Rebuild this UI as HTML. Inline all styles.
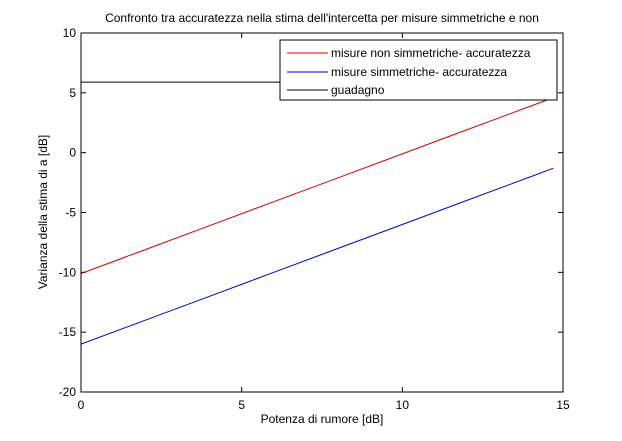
<!DOCTYPE html>
<html><head><meta charset="utf-8"><style>
html,body{margin:0;padding:0;background:#fff;}
svg{display:block;font-family:"Liberation Sans",Arial,sans-serif;}
</style></head><body>
<svg id="chart" width="622" height="441" viewBox="0 0 622 441" xmlns="http://www.w3.org/2000/svg">
<rect x="0" y="0" width="622" height="441" fill="#fff"/>
<text x="322" y="22" font-size="12" text-anchor="middle">Confronto tra accuratezza nella stima dell'intercetta per misure simmetriche e non</text>
<g id="ticks"></g>
<g id="series"></g>
<rect x="81" y="33" width="482" height="359" fill="none" stroke="#000" stroke-width="1"/>
<text x="322" y="423" font-size="12" text-anchor="middle">Potenza di rumore [dB]</text>
<text transform="translate(47,212) rotate(-90)" font-size="12" text-anchor="middle">Varianza della stima di a [dB]</text>
<g>
<rect x="280" y="40" width="277" height="60" fill="#fff" stroke="#000" stroke-width="1"/>
<line x1="287" y1="53" x2="328" y2="53" stroke="#d00000"/>
<text x="331" y="57" font-size="12">misure non simmetriche- accuratezza</text>
<line x1="287" y1="72" x2="328" y2="72" stroke="#0000d0"/>
<text x="331" y="76" font-size="12">misure simmetriche- accuratezza</text>
<line x1="287" y1="90" x2="328" y2="90" stroke="#000"/>
<text x="331" y="94" font-size="12">guadagno</text>
</g>
</svg>
<script>
const xValues = [0, 2, 4, 6, 8, 10, 12, 14, 14.7];
const redValues = [-10.1, -8.1, -6.1, -4.1, -2.1, -0.1, 1.9, 3.9, 4.6];
const blueValues = [-16, -14, -12, -10, -8, -6, -4, -2, -1.3];
const gainValues = [5.9, 5.9, 5.9, 5.9, 5.9, 5.9, 5.9, 5.9, 5.9];
const xTicks = [0, 5, 10, 15];
const yTicks = [-20, -15, -10, -5, 0, 5, 10];

const L=81,R=563,T=33,B=392;
const xs=v=>L+(v-0)/(15-0)*(R-L);
const ys=v=>B-(v+20)/30*(B-T);
const NS="http://www.w3.org/2000/svg";
const tg=document.getElementById('ticks');
function mk(tag,attrs,parent){const e=document.createElementNS(NS,tag);for(const k in attrs)e.setAttribute(k,attrs[k]);parent.appendChild(e);return e;}
xTicks.forEach(t=>{
  const x=xs(t);
  const a=mk('line',{x1:x,y1:B,x2:x,y2:B-5,stroke:'#000'},tg);
  
  
  mk('line',{x1:x,y1:T,x2:x,y2:T+5,stroke:'#000'},tg);
  const tx=mk('text',{x:x,y:B+17,'font-size':12,'text-anchor':'middle'},tg);
  tx.textContent=t;
  
  
});
yTicks.forEach(t=>{
  const y=ys(t);
  const a=mk('line',{x1:L,y1:y,x2:L+5,y2:y,stroke:'#000'},tg);
  
  
  mk('line',{x1:R,y1:y,x2:R-5,y2:y,stroke:'#000'},tg);
  const tx=mk('text',{x:L-5,y:y+4,'font-size':12,'text-anchor':'end'},tg);
  tx.textContent=t;
  
  
});
const sg=document.getElementById('series');
function line(vals,color,name){
  const pts=xValues.map((x,i)=>xs(x).toFixed(1)+','+ys(vals[i]).toFixed(1)).join(' ');
  const p=mk('polyline',{points:pts,fill:'none',stroke:color,'stroke-width':1},sg);
  
  
}
line(gainValues,'#000','guadagno-line');
line(redValues,'#d00000','non-symmetric-line');
line(blueValues,'#0000d0','symmetric-line');
</script>
</body></html>
